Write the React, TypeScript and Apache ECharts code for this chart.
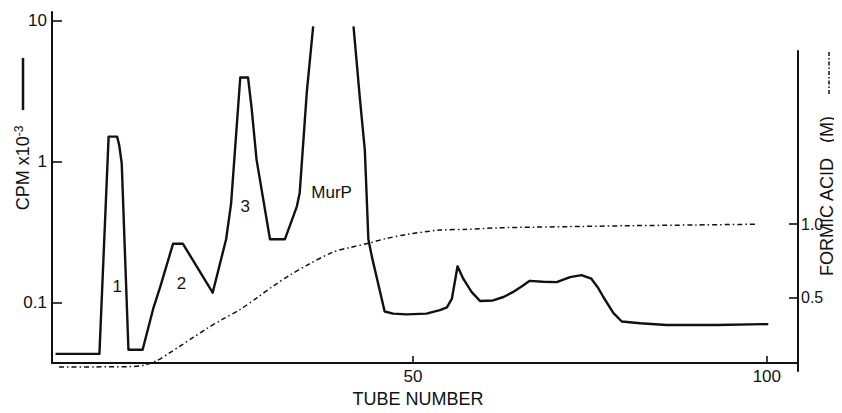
import React, { useEffect, useRef } from "react";
import * as echarts from "echarts";

// ---- data ----
const TUBES = [
  -0.5, 5.7, 7.0, 8.2, 8.5, 8.85, 9.8, 11.8, 13.3, 14.3, 16.1, 17.5, 21.7, 23.6,
  24.3, 25.6, 26.7, 27.2, 27.9, 29.8, 31.9, 33.6, 34.0, 35.0, 35.9, 38.7, 41.6,
  42.5, 43.2, 43.7, 44.2, 46.0, 47.2, 49.1, 51.9, 53.8, 54.8, 55.5, 56.3, 57.1,
  58.3, 59.5, 61.3, 62.8, 64.1, 65.4, 66.5, 68.4, 70.3, 72.2, 73.8, 75.2, 76.1,
  76.9, 78.3, 79.5, 82.1, 85.8, 92.9, 100.2,
];
const CPM: (number | null)[] = [
  0.043, 0.043, 1.5, 1.5, 1.3, 0.97, 0.046, 0.046, 0.09, 0.129, 0.26, 0.26, 0.117,
  0.28, 0.5, 3.94, 3.94, 2.4, 1.03, 0.28, 0.28, 0.48, 0.6, 3.1, 9.1, null, 9.1,
  2.8, 1.2, 0.28, 0.21, 0.086, 0.083, 0.082, 0.083, 0.088, 0.092, 0.106, 0.18,
  0.147, 0.118, 0.102, 0.103, 0.109, 0.118, 0.13, 0.142, 0.14, 0.139, 0.151,
  0.156, 0.147, 0.128, 0.109, 0.084, 0.073, 0.071, 0.069, 0.069, 0.07,
];

const ACID_TUBES = [
  0, 5, 10, 12, 13.8, 15.5, 17.1, 19, 20.9, 23, 25.6, 28, 30.3, 32.5, 35, 38.7,
  41, 43.7, 46, 49.1, 53.8, 57.6, 62, 67, 74, 81, 90, 98.7,
];
const ACID_M = [
  0.027, 0.028, 0.03, 0.04, 0.07, 0.12, 0.17, 0.23, 0.29, 0.35, 0.42, 0.5, 0.58,
  0.65, 0.72, 0.81, 0.84, 0.87, 0.9, 0.93, 0.96, 0.965, 0.975, 0.98, 0.985, 0.99,
  0.995, 1.0,
];

const PEAK_LABELS = ["1", "2", "3", "MurP"];
const PEAK_TUBES = [8.2, 17.3, 26.3, 38.5];
const PEAK_CPM = [0.13, 0.135, 0.48, 0.6];

const X_TICKS = [50, 100];
const CPM_TICKS = [0.1, 1, 10];
const CPM_TICK_LABELS = ["0.1", "1", "10"];
const ACID_TICKS = [0.5, 1.0];
const ACID_TICK_LABELS = ["0.5", "1.0"];

const FONT = "Liberation Sans, Arial, sans-serif";
const INK = "#111";

export default function App() {
  const ref = useRef<HTMLDivElement>(null);

  useEffect(() => {
    if (!ref.current) return;
    const chart = echarts.init(ref.current, null, { renderer: "svg" });

    const cpmData = TUBES.map((t, i) => {
      const v = CPM[i];
      return v === null ? [t, "-"] : [t, Math.log10(v)];
    });
    const acidData = ACID_TUBES.map((t, i) => [t, ACID_M[i]]);
    const logTicks = CPM_TICKS.map((v) => Math.log10(v));

    const option: any = {
      animation: false,
      backgroundColor: "#fff",
      grid: [
        { left: 52, right: 44, top: 12, bottom: 42 },
        { left: 52, right: 44, top: 51, bottom: 42 },
      ],
      xAxis: [
        {
          gridIndex: 0,
          type: "value",
          min: -1,
          max: 104.4,
          axisLine: { onZero: false, lineStyle: { color: INK, width: 2 } },
          axisTick: {
            inside: true,
            length: 7,
            customValues: X_TICKS,
            lineStyle: { color: INK, width: 1.6 },
          },
          axisLabel: {
            customValues: X_TICKS,
            color: INK,
            fontSize: 17,
            fontFamily: FONT,
            margin: 5,
          },
          splitLine: { show: false },
          name: "TUBE NUMBER",
          nameLocation: "middle",
          nameGap: 26,
          nameTextStyle: {
            color: INK,
            fontSize: 18,
            fontFamily: FONT,
            padding: [0, 14, 0, 0],
          },
        },
        {
          gridIndex: 1,
          type: "value",
          min: -1,
          max: 104.4,
          show: false,
          axisLine: { onZero: false },
        },
      ],
      yAxis: [
        {
          gridIndex: 0,
          type: "value",
          min: Math.log10(0.037),
          max: Math.log10(11.5),
          axisLine: { show: true, onZero: false, lineStyle: { color: INK, width: 2 } },
          axisTick: {
            show: true,
            inside: true,
            length: 10,
            customValues: logTicks,
            lineStyle: { color: INK, width: 1.6 },
          },
          axisLabel: {
            customValues: logTicks,
            color: INK,
            fontSize: 17,
            fontFamily: FONT,
            margin: 5,
            formatter: (v: number) => {
              const i = logTicks.findIndex((t) => Math.abs(t - v) < 1e-6);
              return i >= 0 ? CPM_TICK_LABELS[i] : "";
            },
          },
          splitLine: { show: false },
        },
        {
          gridIndex: 1,
          type: "value",
          position: "right",
          min: 0,
          max: 2.18,
          axisLine: { show: true, onZero: false, lineStyle: { color: INK, width: 2 } },
          axisTick: {
            show: true,
            inside: true,
            length: 9,
            customValues: ACID_TICKS,
            lineStyle: { color: INK, width: 1.6 },
          },
          axisLabel: {
            customValues: ACID_TICKS,
            color: INK,
            fontSize: 16,
            fontFamily: FONT,
            margin: 3,
            formatter: (v: number) => {
              const i = ACID_TICKS.findIndex((t) => Math.abs(t - v) < 1e-6);
              return i >= 0 ? ACID_TICK_LABELS[i] : "";
            },
          },
          splitLine: { show: false },
        },
      ],
      series: [
        {
          type: "line",
          name: "Formic acid",
          xAxisIndex: 1,
          yAxisIndex: 1,
          data: acidData,
          smooth: 0.3,
          showSymbol: false,
          symbol: "none",
          lineStyle: { color: INK, width: 1.5, type: [5, 3, 1.5, 3] },
          silent: true,
        },
        {
          type: "line",
          name: "CPM",
          xAxisIndex: 0,
          yAxisIndex: 0,
          data: cpmData,
          connectNulls: false,
          showSymbol: false,
          symbol: "none",
          lineStyle: { color: INK, width: 2.4, join: "round" },
          silent: true,
          markPoint: {
            symbol: "circle",
            symbolSize: 0,
            silent: true,
            label: {
              show: true,
              position: "inside",
              color: INK,
              fontSize: 17,
              fontFamily: FONT,
              formatter: (p: any) => p.name,
            },
            data: PEAK_LABELS.map((n, i) => ({
              name: n,
              coord: [PEAK_TUBES[i], Math.log10(PEAK_CPM[i])],
            })),
          },
        },
      ],
      graphic: [
        {
          type: "text",
          x: 23,
          y: 168,
          rotation: Math.PI / 2,
          style: {
            text: "CPM x10{sup|-3}",
            fill: INK,
            fontSize: 18,
            fontFamily: FONT,
            align: "center",
            verticalAlign: "middle",
            rich: {
              sup: { fontSize: 12, fill: INK, fontFamily: FONT, padding: [0, 0, 9, 0] },
            },
          },
        },
        {
          type: "line",
          shape: { x1: 23, y1: 58, x2: 23, y2: 110 },
          style: { stroke: INK, lineWidth: 2.5 },
        },
        {
          type: "text",
          x: 827,
          y: 196,
          rotation: Math.PI / 2,
          style: {
            text: "FORMIC ACID   (M)",
            fill: INK,
            fontSize: 18,
            fontFamily: FONT,
            align: "center",
            verticalAlign: "middle",
          },
        },
        {
          type: "line",
          shape: { x1: 829, y1: 52, x2: 829, y2: 94 },
          style: { stroke: INK, lineWidth: 1.5, lineDash: [4, 2, 1.5, 2] },
        },
      ],
    };

    chart.setOption(option);
    return () => chart.dispose();
  }, []);

  return <div ref={ref} style={{ width: 842, height: 413, margin: -8 }} />;
}
